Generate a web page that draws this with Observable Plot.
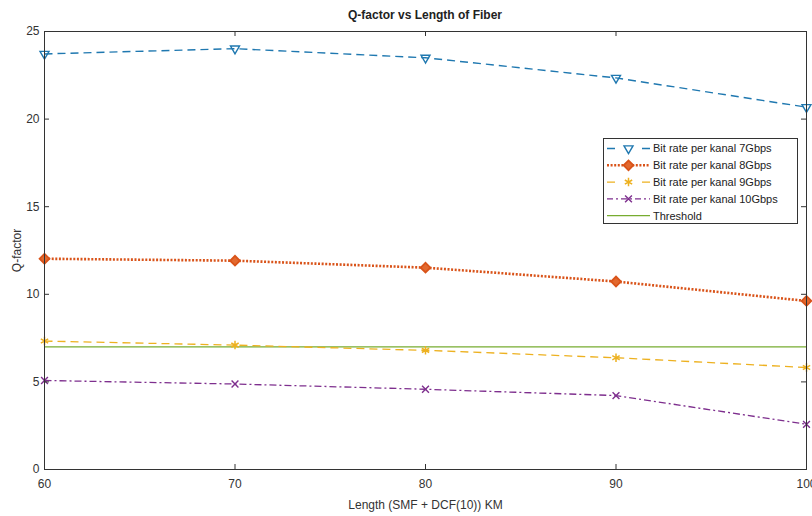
<!DOCTYPE html>
<html><head><meta charset="utf-8">
<script src="https://cdn.jsdelivr.net/npm/d3@7"></script>
<script src="https://cdn.jsdelivr.net/npm/@observablehq/plot@0.6"></script>
<style>
body{margin:0;background:#fff;font-family:"Liberation Sans",Arial,sans-serif;}
#wrap{position:relative;width:812px;height:516px;overflow:hidden;}
#title{position:absolute;left:44px;width:762px;top:8px;text-align:center;font-weight:bold;font-size:12px;color:#222;}
#chart{position:absolute;left:0;top:24px;}
#legend{position:absolute;left:603px;top:138px;}
</style></head><body>
<div id="wrap"><div id="title">Q-factor vs Length of Fiber</div><div id="chart"></div><div id="legend"></div></div>
<script>
// ---- data ----
const lengths = [60, 70, 80, 90, 100];
const q7  = [23.72, 24.02, 23.5, 22.35, 20.68];
const q8  = [12.03, 11.92, 11.52, 10.73, 9.62];
const q9  = [7.33, 7.1, 6.8, 6.38, 5.82];
const q10 = [5.08, 4.88, 4.58, 4.22, 2.58];
const threshold = 7;
const seriesNames = ["Bit rate per kanal 7Gbps", "Bit rate per kanal 8Gbps", "Bit rate per kanal 9Gbps", "Bit rate per kanal 10Gbps"];
const thresholdName = "Threshold";
const xTicks = [60, 70, 80, 90, 100];
const yTicks = [0, 5, 10, 15, 20, 25];

// ---- styles ----
const colors = ["#1f78b0", "#D95319", "#EDB120", "#7E2F8E"];
const thrColor = "#77AC30";
const dashes = ["8,5", "2,1.6", "8,5", "7,3,2,3"];
const legendDashes = ["8,27", "2,1.6", "8,27", "6,3,2,3"];
const widths = [1.4, 2.6, 1.3, 1.3];
const symbols = ["triangle2", "square", "asterisk", "times"];
const rotates = [180, 45, 0, 0];
const radii = [4.3, 3.9, 4.0, 3.2];
const fills = ["none", "#e2692f", "none", "none"];
const dotStrokeW = [1.4, 1.8, 1.5, 1.4];

const allSeries = [q7, q8, q9, q10];
const rows = allSeries.flatMap((s, i) => s.map((v, j) => ({series: i, x: lengths[j], y: v})));

const W = 812, H = 492, mL = 44, mR = 6, mT = 7, mB = 47;
const pw = W - mL - mR, ph = H - mT - mB;

const marks = [];
marks.push(Plot.ruleY([threshold], {stroke: thrColor, strokeWidth: 1.2}));
allSeries.forEach((s, i) => {
  const d = rows.filter(r => r.series === i);
  marks.push(Plot.line(d, {x: "x", y: "y", stroke: colors[i], strokeWidth: widths[i], strokeDasharray: dashes[i], strokeLinecap: "butt", strokeLinejoin: "miter", curve: "linear"}));
});
allSeries.forEach((s, i) => {
  const d = rows.filter(r => r.series === i);
  marks.push(Plot.dot(d, {x: "x", y: "y", symbol: () => symbols[i], stroke: colors[i], fill: fills[i], r: radii[i], rotate: rotates[i], strokeWidth: dotStrokeW[i]}));
});
// frame and inward ticks
marks.push(Plot.frame({stroke: "#333", strokeWidth: 1}));
marks.push(Plot.ruleX(xTicks, {x: d => d, insetTop: ph - 5, stroke: "#333"}));
marks.push(Plot.ruleX(xTicks, {x: d => d, insetBottom: ph - 5, stroke: "#333"}));
marks.push(Plot.ruleY(yTicks, {y: d => d, insetRight: pw - 5, stroke: "#333"}));
marks.push(Plot.ruleY(yTicks, {y: d => d, insetLeft: pw - 5, stroke: "#333"}));
marks.push(Plot.axisX(xTicks, {tickSize: 0, tickPadding: 10, fontSize: 12, label: "Length (SMF + DCF(10)) KM", labelAnchor: "center", labelOffset: 39, labelArrow: "none", tickFormat: d => String(d)}));
marks.push(Plot.axisY(yTicks, {tickSize: 0, tickPadding: 5, fontSize: 12, label: "Q-factor", labelAnchor: "center", labelOffset: 32, labelArrow: "none"}));

const chart = Plot.plot({
  width: W, height: H,
  marginLeft: mL, marginRight: mR, marginTop: mT, marginBottom: mB,
  x: {domain: [60, 100]},
  y: {domain: [0, 25]},
  style: {fontFamily: '"Liberation Sans", Arial, sans-serif', color: "#333", fontSize: "12px", overflow: "visible"},
  marks
});
document.getElementById("chart").append(chart);

// ---- legend ----
const lw = 195, lh = 86;
const lsvg = d3.select("#legend").append("svg").attr("width", lw).attr("height", lh);
lsvg.append("rect").attr("x", 0.5).attr("y", 0.5).attr("width", lw - 1).attr("height", lh - 1).attr("fill", "#fff").attr("stroke", "#333");
const rowY = i => 10.5 + i * 16.8;
const symMap = {triangle2: d3.symbolTriangle2, square: d3.symbolSquare, asterisk: d3.symbolAsterisk, times: d3.symbolTimes};
seriesNames.forEach((name, i) => {
  const y = rowY(i);
  lsvg.append("line").attr("x1", 4).attr("x2", 47).attr("y1", y).attr("y2", y).attr("stroke", colors[i]).attr("stroke-width", widths[i]).attr("stroke-dasharray", legendDashes[i]).attr("stroke-linecap", "butt");
  const area = Math.PI * radii[i] * radii[i];
  lsvg.append("path").attr("d", d3.symbol(symMap[symbols[i]], area)()).attr("transform", `translate(25.5,${y}) rotate(${rotates[i]})`)
    .attr("fill", fills[i] === "none" ? "#fff" : fills[i]).attr("fill-opacity", fills[i] === "none" ? 0 : 1)
    .attr("stroke", colors[i]).attr("stroke-width", dotStrokeW[i]);
  lsvg.append("text").attr("x", 50).attr("y", y).attr("dy", "0.35em").attr("font-size", 11).attr("fill", "#222").text(name);
});
{
  const y = rowY(4);
  lsvg.append("line").attr("x1", 4).attr("x2", 47).attr("y1", y).attr("y2", y).attr("stroke", thrColor).attr("stroke-width", 1.2);
  lsvg.append("text").attr("x", 50).attr("y", y).attr("dy", "0.35em").attr("font-size", 11).attr("fill", "#222").text(thresholdName);
}
</script>
</body></html>
